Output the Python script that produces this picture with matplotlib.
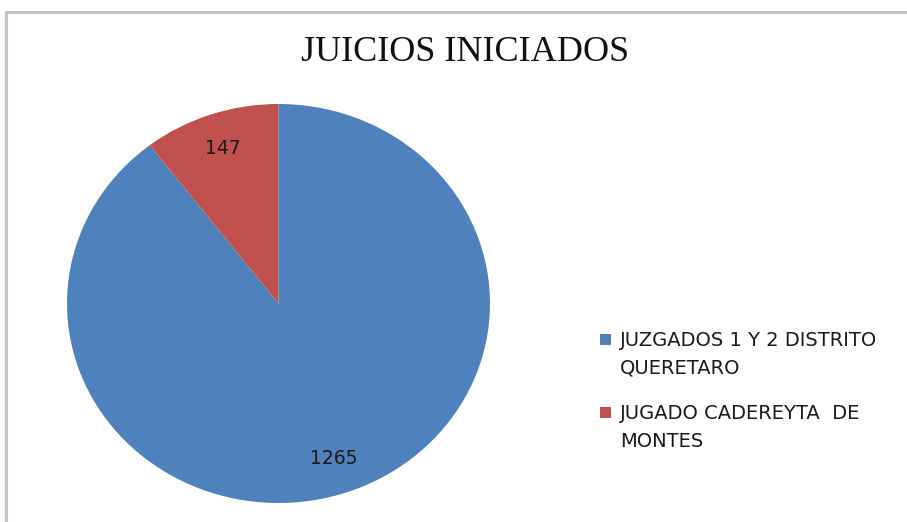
import matplotlib.pyplot as plt
from matplotlib.patches import Rectangle

# Data
categories = ['JUZGADOS 1 Y 2 DISTRITO\nQUERETARO', 'JUGADO CADEREYTA  DE\nMONTES']
values = [1265, 147]
colors = ['#4F81BD', '#C0504D']

W, H = 907, 522
fig = plt.figure(figsize=(W / 100, H / 100), dpi=100)


def fx(px):
    return px / W


def fy(py):
    return 1 - py / H


# Outer chart border (gray, running off right/bottom edges)
fig.patches.append(Rectangle((fx(6), -0.05), 1.2, fy(12) + 0.05,
                             transform=fig.transFigure, fill=False,
                             edgecolor='#c4c4c4', linewidth=2.2))

# Pie axes placed in pixel box (slightly elliptical like the original)
ax = fig.add_axes([fx(67), fy(503), fx(490) - fx(67), fy(104) - fy(503)])
total = sum(values)
ax.pie(values, colors=colors, startangle=90, counterclock=False,
       autopct=lambda p: f'{round(p * total / 100):d}', pctdistance=0.82,
       textprops={'fontsize': 13.5, 'color': '#1a1a1a', 'family': 'DejaVu Sans'})
ax.set_aspect('auto')
ax.set_xlim(-1, 1)
ax.set_ylim(-1, 1)

# Title
fig.text(fx(465), fy(61), 'JUICIOS INICIADOS', ha='center', va='baseline',
         fontsize=26, family='Liberation Serif', color='#111111')

# Legend drawn by hand so the swatch lines up with the first text line
line_step = 28
entry_baselines = [346, 419]
for label, color, base in zip(categories, colors, entry_baselines):
    fig.patches.append(Rectangle((fx(600), fy(base - 1)), 11 / W, 11 / H,
                                 transform=fig.transFigure,
                                 facecolor=color, edgecolor='none'))
    for j, line in enumerate(label.split('\n')):
        fig.text(fx(620), fy(base + j * line_step), line, ha='left',
                 va='baseline', fontsize=14, family='DejaVu Sans',
                 color='#1a1a1a')

fig.savefig('out.png', dpi=100)
